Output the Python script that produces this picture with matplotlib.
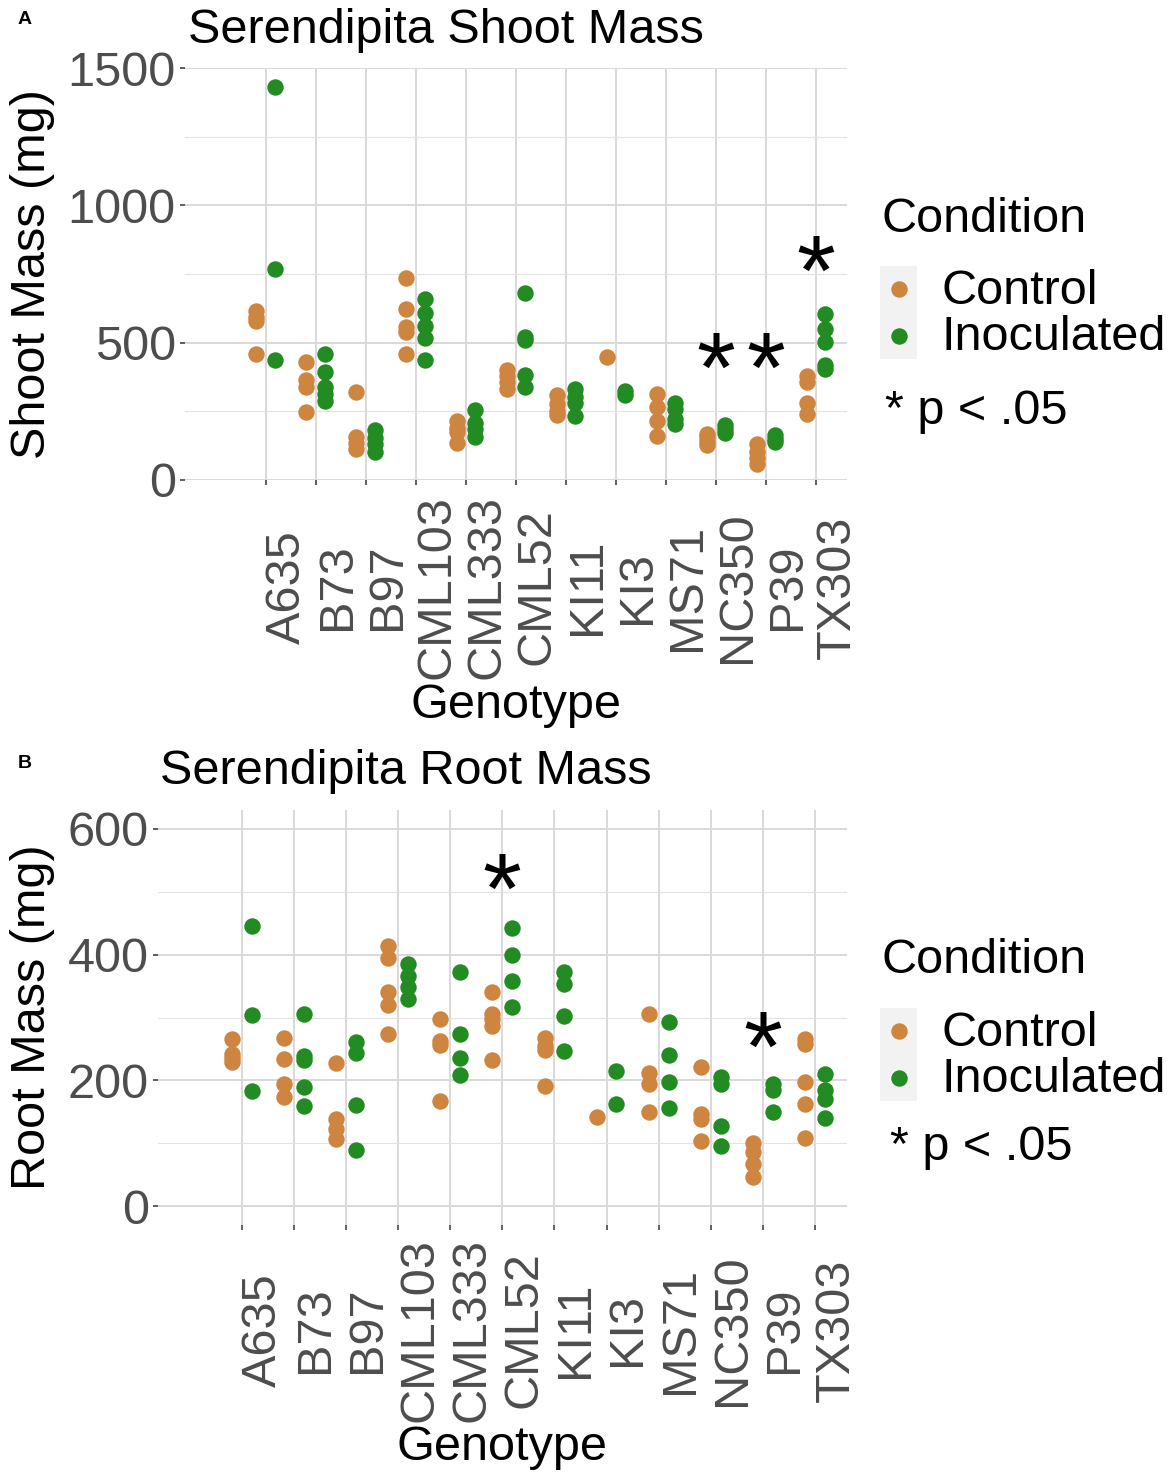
import matplotlib
matplotlib.use("Agg")
import matplotlib.pyplot as plt
import matplotlib.transforms as mtransforms

plt.rcParams['font.family'] = ['Liberation Sans', 'DejaVu Sans']

# genotypes
genotypes = ['A635', 'B73', 'B97', 'CML103', 'CML333', 'CML52',
             'KI11', 'KI3', 'MS71', 'NC350', 'P39', 'TX303']

# shoot mass (mg)
shoot_control = [[615, 595, 580, 460], [429, 362, 340, 248], [321, 155, 135, 112],
                 [737, 623, 556, 538, 459], [213, 190, 176, 133], [400, 378, 355, 330],
                 [310, 278, 250, 238], [449], [313, 264, 213, 158],
                 [167, 155, 140, 128], [130, 100, 78, 57], [377, 355, 280, 240]]
shoot_inoc = [[1433, 769, 435], [459, 392, 340, 313, 289], [181, 151, 130, 100],
              [659, 609, 560, 517, 438], [254, 206, 185, 157], [681, 522, 508, 382, 340],
              [331, 300, 279, 231], [325, 310], [279, 258, 222, 203],
              [200, 185, 170], [164, 150, 136], [605, 550, 502, 418, 405]]
shoot_sig = ['NC350', 'P39', 'TX303']
shoot_sig_y = [453, 453, 807]

# root mass (mg)
root_control = [[266, 242, 235, 230], [268, 234, 194, 174], [227, 139, 123, 106],
                [414, 394, 340, 320, 274], [298, 263, 256, 168], [341, 305, 297, 287, 233],
                [268, 255, 248, 191], [141], [306, 212, 194, 149],
                [222, 146, 138, 104], [100, 86, 67, 46], [266, 258, 197, 162, 108]]
root_inoc = [[445, 304, 183], [305, 238, 232, 189, 159], [261, 244, 161, 89],
             [385, 366, 348, 329], [373, 274, 236, 209], [443, 400, 358, 316],
             [372, 353, 302, 247], [215, 162], [293, 240, 198, 156],
             [205, 195, 128, 96], [194, 184, 150], [210, 184, 170, 140]]
root_sig = ['CML52', 'P39']
root_sig_y = [524, 273]

ctrl_col = '#CD853F'
inoc_col = '#228B22'
W, H = 1175, 1473
FS = 35

fig = plt.figure(figsize=(W / 100, H / 100), dpi=100)


def fx(x):
    return x / W


def fy(y):
    return 1 - y / H


def panel(box, control, inoc, sig, sig_y, ylim, major, minor, dodge,
          title, title_x, ylab, lab_y, genotype_y, legend_y):
    left, top, right, bottom = box
    ax = fig.add_axes([fx(left), fy(bottom), fx(right - left), (bottom - top) / H])
    for s in ax.spines.values():
        s.set_visible(False)
    ax.set_xlim(-1.61, 11.61)
    ax.set_ylim(*ylim)
    ax.set_xticks(range(len(genotypes)))
    ax.set_xticklabels([])
    ax.set_yticks(major)
    ax.set_yticks(minor, minor=True)
    ax.set_yticklabels([str(v) for v in major])
    ax.tick_params(axis='both', which='major', length=3.6, width=1.1, color='#333333',
                   labelsize=FS, labelcolor='#4D4D4D', pad=3)
    ax.tick_params(axis='y', which='minor', length=0)
    ax.grid(True, which='major', color='#D9D9D9', lw=1.4)
    ax.grid(True, which='minor', axis='y', color='#E3E3E3', lw=0.8)
    ax.set_axisbelow(True)
    for i, vals in enumerate(control):
        ax.scatter([i - dodge] * len(vals), vals, s=140, color=ctrl_col, lw=0, zorder=3, clip_on=False)
    for i, vals in enumerate(inoc):
        ax.scatter([i + dodge] * len(vals), vals, s=140, color=inoc_col, lw=0, zorder=3, clip_on=False)
    # asterisk glyph sits high in its box, shift it down a bit
    star_tr = mtransforms.offset_copy(ax.transData, fig=fig, x=0, y=-20, units='dots')
    for g, yv in zip(sig, sig_y):
        ax.text(genotypes.index(g), yv, '*', fontsize=72, ha='center', va='center',
                zorder=4, transform=star_tr)

    trans = mtransforms.blended_transform_factory(ax.transData, fig.transFigure)
    for i, g in enumerate(genotypes):
        ax.text(i - 0.02, fy(lab_y), g, rotation=90, ha='left', va='center',
                fontsize=FS, color='#4D4D4D', transform=trans)

    fig.text(fx(title_x), fy(top - 38), title, fontsize=FS, ha='left', va='center')
    fig.text(fx(33), fy((top + bottom) / 2), ylab, rotation=90, fontsize=FS,
             ha='center', va='center')
    fig.text(fx((left + right) / 2), fy(genotype_y), 'Genotype', fontsize=FS,
             ha='center', va='center')

    # legend
    fig.text(fx(882), fy(legend_y), 'Condition', fontsize=FS, ha='left', va='center')
    key = fig.add_axes([fx(880), fy(legend_y + 140), fx(37), 93 / H])
    key.set_xlim(0, 1)
    key.set_ylim(0, 1)
    key.set_facecolor('#F2F2F2')
    for s in key.spines.values():
        s.set_visible(False)
    key.set_xticks([])
    key.set_yticks([])
    key.scatter([0.5], [0.75], s=140, color=ctrl_col, lw=0)
    key.scatter([0.5], [0.25], s=140, color=inoc_col, lw=0)
    fig.text(fx(942), fy(legend_y + 73), 'Control', fontsize=FS, ha='left', va='center')
    fig.text(fx(942), fy(legend_y + 119), 'Inoculated', fontsize=FS, ha='left', va='center')
    return ax


panel((185, 68.3, 846.7, 479.8), shoot_control, shoot_inoc, shoot_sig, shoot_sig_y,
      (0, 1500), [0, 500, 1000, 1500], [250, 750, 1250], 0.185,
      'Serendipita Shoot Mass', 188, 'Shoot Mass (mg)', 587, 706, 219)
fig.text(fx(885), fy(412), '* p < .05', fontsize=FS, ha='left', va='center')

panel((158, 810, 846.7, 1225), root_control, root_inoc, root_sig, root_sig_y,
      (-30, 630), [0, 200, 400, 600], [100, 300, 500], 0.19,
      'Serendipita Root Mass', 160, 'Root Mass (mg)', 1330, 1447, 961)
fig.text(fx(890), fy(1147), '* p < .05', fontsize=FS, ha='left', va='center')

fig.text(fx(25), fy(20), 'A', fontsize=14, fontweight='bold', ha='center', va='center')
fig.text(fx(25), fy(763), 'B', fontsize=14, fontweight='bold', ha='center', va='center')

fig.savefig('out.png', dpi=100)
